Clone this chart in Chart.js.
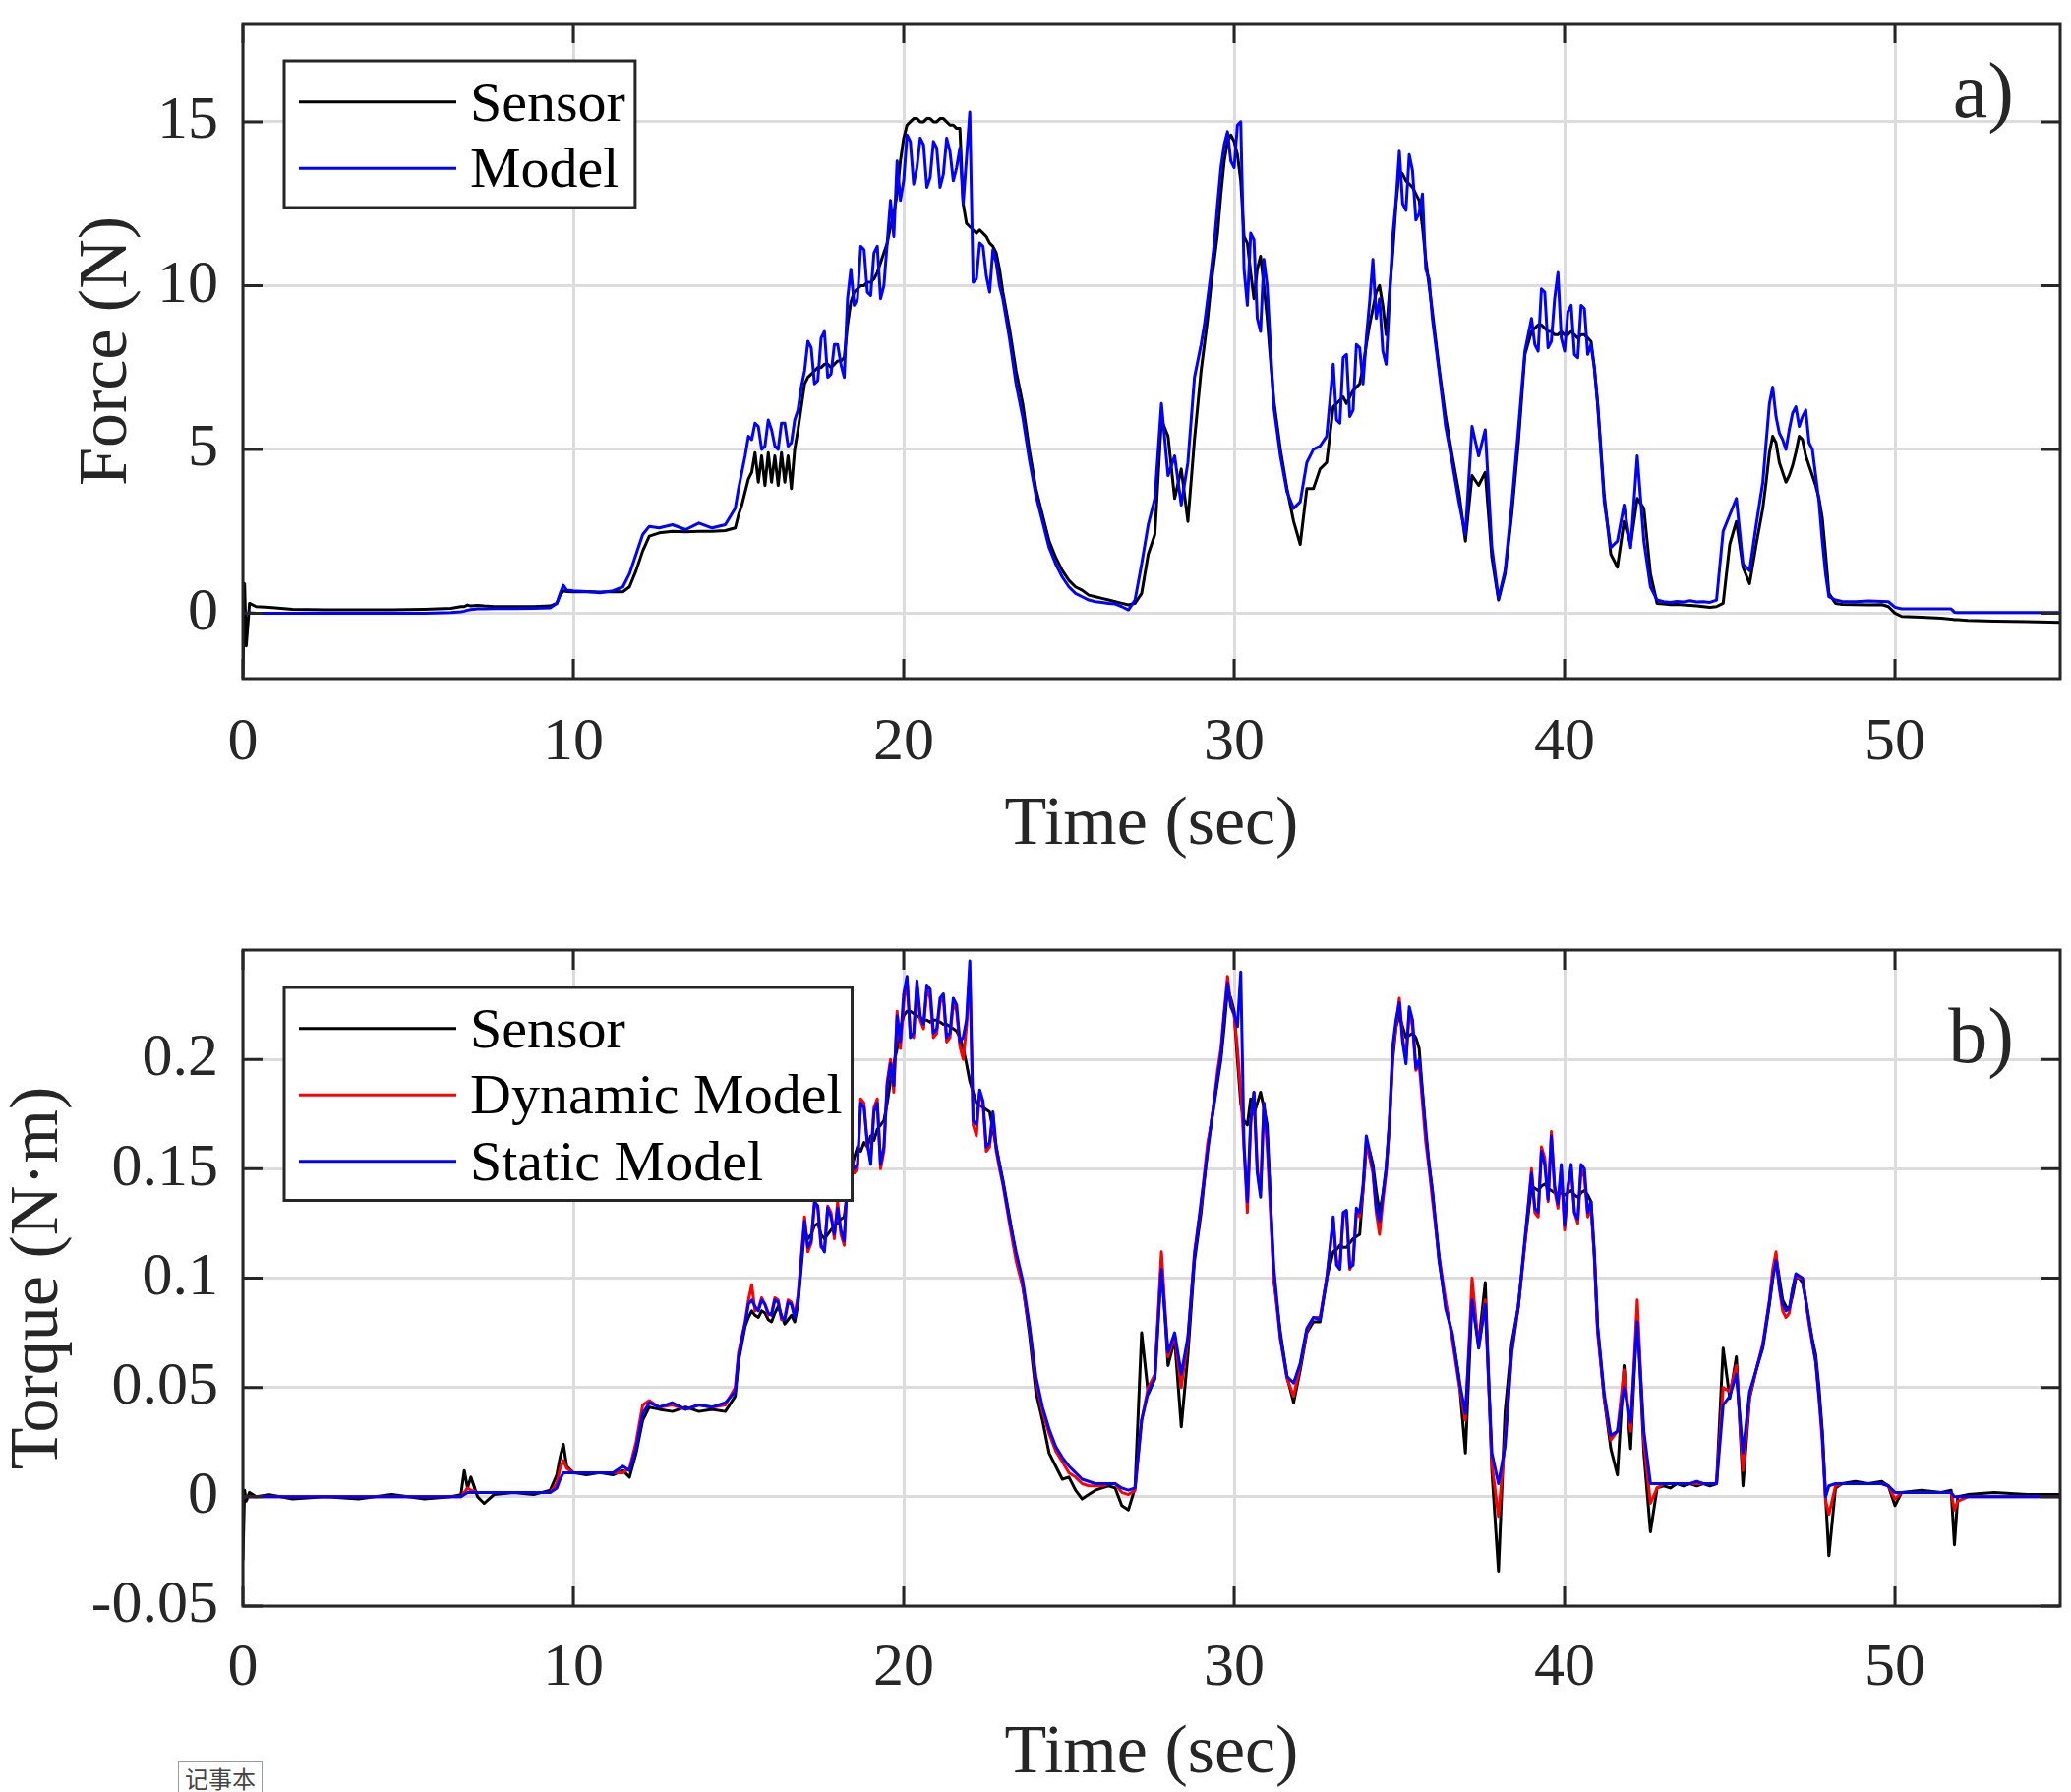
<!DOCTYPE html>
<html>
<head>
<meta charset="utf-8">
<script src="https://cdn.jsdelivr.net/npm/chart.js@4.4.0/dist/chart.umd.min.js"></script>
<style>
  body { margin: 0; background: #fff; }
  canvas { position: absolute; left: 0; }
  #force-chart { top: 0; }
  #torque-chart { top: 911px; }
  #note {
    position: absolute; left: 181px; top: 1790px; width: 84px; height: 34px;
    border: 1px solid #999; background: #fff; color: #444;
    font: 24px "Noto Sans CJK SC", sans-serif; line-height: 34px; text-align: center;
  }
</style>
</head>
<body>
<canvas id="force-chart" width="2106" height="911"></canvas>
<canvas id="torque-chart" width="2106" height="911"></canvas>
<div id="note">记事本</div>
<script>
// sample times (sec), shared by both panels
const time = [
  0, 0.05, 0.1, 0.2, 0.4, 0.8, 1.5, 2.5, 3.5, 4.5,
  5.5, 6.3, 6.6, 6.7, 6.8, 6.9, 7.1, 7.3, 7.6, 8.2,
  8.8, 9.3, 9.5, 9.6, 9.7, 9.8, 10, 10.4, 10.8, 11.2,
  11.5, 11.7, 11.9, 12.1, 12.3, 12.6, 13, 13.4, 13.8, 14.2,
  14.6, 14.9,
  15, 15.1, 15.2, 15.3, 15.4, 15.5, 15.6, 15.7, 15.8, 15.9,
  16, 16.1, 16.2, 16.3, 16.4, 16.5, 16.6, 16.7, 16.8, 16.9,
  17, 17.1, 17.2, 17.3, 17.4, 17.5, 17.6, 17.7, 17.8, 17.9,
  18, 18.1, 18.2, 18.3, 18.4, 18.5, 18.6, 18.7, 18.8, 18.9,
  19, 19.1, 19.2, 19.3, 19.4, 19.5, 19.6, 19.7, 19.8, 19.9,
  20, 20.1, 20.2, 20.3, 20.4, 20.5, 20.6, 20.7, 20.8, 20.9,
  21, 21.1, 21.2, 21.3, 21.4, 21.5, 21.6, 21.7, 21.8, 21.9,
  22, 22.1, 22.2, 22.3, 22.4, 22.5, 22.6, 22.7, 22.8, 22.9,
  23, 23.2, 23.4, 23.6, 23.8,
  24, 24.2, 24.4, 24.6, 24.8,
  25, 25.2, 25.4, 25.6, 25.8,
  26, 26.2, 26.4, 26.6, 26.8,
  27, 27.2, 27.4, 27.6, 27.8,
  28, 28.2, 28.4, 28.6, 28.8,
  29, 29.1, 29.2, 29.3, 29.4, 29.5, 29.6, 29.7, 29.8, 29.9,
  30, 30.1, 30.2, 30.3, 30.4, 30.5, 30.6, 30.7, 30.8, 30.9,
  31, 31.2, 31.4, 31.6, 31.8,
  32, 32.2, 32.4, 32.6, 32.8,
  33, 33.1, 33.2, 33.3, 33.4, 33.5, 33.6, 33.7, 33.8, 33.9,
  34, 34.1, 34.2, 34.3, 34.4, 34.5, 34.6, 34.7, 34.8, 34.9,
  35, 35.1, 35.2, 35.3, 35.4, 35.5, 35.6, 35.7, 35.8, 35.9,
  36, 36.2, 36.4, 36.6, 36.8,
  37, 37.2, 37.4, 37.6, 37.8,
  38, 38.2, 38.4, 38.6, 38.8,
  39, 39.1, 39.2, 39.3, 39.4, 39.5, 39.6, 39.7, 39.8, 39.9,
  40, 40.1, 40.2, 40.3, 40.4, 40.5, 40.6, 40.7, 40.8, 40.9,
  41, 41.2, 41.4, 41.6, 41.8,
  42, 42.2, 42.4, 42.6, 42.8,
  43, 43.2, 43.4, 43.6, 43.8,
  44, 44.2, 44.4, 44.6, 44.8,
  45, 45.2, 45.4, 45.6, 45.8,
  46, 46.1, 46.2, 46.3, 46.4, 46.5, 46.6, 46.7, 46.8, 46.9,
  47, 47.1, 47.2, 47.3, 47.4, 47.5, 47.6, 47.7, 47.8, 47.9,
  48, 48.2,
  48.4, 48.8, 49.2, 49.6, 49.8, 50, 50.2, 50.8, 51.4, 51.7,
  51.8, 51.9, 52.2, 53, 54, 55
];

// panel a) force (N)
const forceSensor = [
  -1.9, 0.9, -1.0, 0.3, 0.2, 0.18, 0.12, 0.1, 0.1, 0.1,
  0.12, 0.15, 0.2, 0.2, 0.25, 0.22, 0.24, 0.22, 0.2, 0.2,
  0.2, 0.22, 0.3, 0.55, 0.68, 0.66, 0.65, 0.66, 0.64, 0.66,
  0.65, 0.8, 1.3, 1.9, 2.35, 2.45, 2.5, 2.48, 2.5, 2.5,
  2.52, 2.6,
  3.0, 3.3, 3.7, 4.1, 4.3, 4.9, 4.0, 4.8, 3.9, 4.9,
  4.0, 4.8, 3.9, 4.9, 4.0, 4.8, 3.8, 5.0, 5.6, 6.3,
  7.0, 7.2, 7.3, 7.4, 7.5, 7.5, 7.6, 7.6, 7.5, 7.6,
  7.7, 7.7, 7.8, 8.8, 9.5, 9.8, 9.9, 10.0, 10.0, 10.1,
  10.1, 10.2, 10.4, 10.7, 11.0, 11.3, 11.8, 12.2, 12.8, 13.8,
  14.5, 14.9, 15.0, 15.1, 15.1, 15.0, 15.0, 15.1, 15.1, 15.0,
  15.0, 15.1, 15.1, 15.0, 14.9, 14.9, 14.8, 14.8, 12.5, 11.9,
  11.8, 11.7, 11.6, 11.7, 11.6, 11.5, 11.3, 11.2, 11.0, 10.5,
  9.8, 8.7, 7.4, 6.4, 5.0,
  3.8, 3.0, 2.2, 1.7, 1.3,
  1.0, 0.8, 0.7, 0.55, 0.5,
  0.45, 0.4, 0.35, 0.3, 0.25,
  0.3, 0.6, 1.8, 2.4, 5.9,
  5.4, 3.5, 4.4, 2.8, 5.3,
  7.4, 8.2, 9.0, 10.0, 10.8, 11.6, 12.8, 13.8, 14.4, 14.6,
  14.4, 14.0, 13.2, 11.5, 11.3, 10.4, 9.6, 10.5, 10.9, 10.0,
  9.0, 6.5, 5.0, 3.8, 2.8,
  2.1, 3.8, 3.8, 4.4, 4.6,
  6.3, 6.4, 6.5, 6.6, 6.4, 6.6, 6.8, 6.9, 7.0, 7.5,
  8.2, 8.8, 9.3, 9.8, 10.0, 9.4, 8.5, 9.8, 11.0, 12.5,
  13.5, 13.4, 13.2, 13.1, 13.0, 12.8, 12.6, 11.8, 10.8, 10.0,
  9.2, 7.5, 6.0, 4.8, 3.7,
  2.2, 4.2, 3.9, 4.3, 1.7,
  0.4, 1.2, 3.0, 5.2, 7.9,
  8.6, 8.7, 8.8, 8.8, 8.7, 8.6, 8.6, 8.5, 8.5, 8.6,
  8.5, 8.5, 8.6, 8.5, 8.4, 8.5, 8.5, 8.4, 8.3, 7.5,
  6.4, 3.6, 1.8, 1.4, 2.8,
  2.1, 3.5, 3.2, 1.2, 0.3,
  0.28, 0.26, 0.27, 0.25, 0.24,
  0.22, 0.2, 0.18, 0.2, 0.3,
  2.1, 2.8, 1.4, 0.9, 2.1,
  3.2, 4.0, 4.9, 5.4, 5.2, 4.6, 4.3, 4.0, 4.2, 4.5,
  4.9, 5.4, 5.3, 4.8, 4.5, 4.2, 3.9, 3.5, 2.9, 1.8,
  0.6, 0.3,
  0.27, 0.26, 0.25, 0.26, 0.2, 0.0, -0.1, -0.12, -0.15, -0.18,
  -0.2, -0.2, -0.22, -0.24, -0.26, -0.28
];
const forceModel = [
  0, 0.02, 0, 0.01, 0, 0, 0, 0, 0, 0,
  0, 0.02, 0.04, 0.06, 0.09, 0.11, 0.13, 0.13, 0.14, 0.14,
  0.15, 0.16, 0.3, 0.6, 0.85, 0.7, 0.68, 0.66, 0.62, 0.68,
  0.8, 1.2, 1.8, 2.4, 2.65, 2.6, 2.7, 2.55, 2.75, 2.6,
  2.7, 3.2,
  3.8, 4.3, 4.8, 5.4, 5.3, 5.8, 5.7, 5.0, 5.1, 5.9,
  5.6, 5.1, 5.0, 5.8, 5.8, 5.1, 5.2, 5.9, 6.2, 6.9,
  7.4, 8.3, 8.1, 7.0, 7.1, 8.4, 8.6, 7.2, 7.3, 8.2,
  8.2, 7.6, 7.2, 9.6, 10.5, 9.4, 9.6, 11.2, 11.1, 9.8,
  9.7, 11.0, 11.2, 9.6, 10.0, 11.3, 12.6, 11.5, 13.8, 12.6,
  13.2, 14.6, 14.4, 13.1, 13.6, 14.5, 14.3, 13.0, 13.3, 14.4,
  14.2, 13.0, 13.4, 14.5, 14.1, 13.2, 13.6, 14.2, 12.5, 13.9,
  15.3, 10.1, 10.2, 11.3, 11.2, 10.3, 9.8, 11.1, 10.7, 10.0,
  9.6, 8.4, 7.0, 6.0, 4.7,
  3.6, 2.8, 2.0, 1.5, 1.1,
  0.8, 0.6, 0.5, 0.4, 0.35,
  0.33, 0.3, 0.28, 0.2, 0.1,
  0.4, 1.5, 2.7, 3.5, 6.4,
  4.2, 4.8, 3.3, 4.6, 7.2,
  8.2, 8.8, 9.6, 10.4, 11.3, 12.5, 13.6, 14.3, 14.7, 13.8,
  13.6, 14.9, 15.0, 10.5, 9.4, 11.6, 11.4, 9.0, 8.6, 10.8,
  10.0, 6.3, 4.8, 3.7, 3.2,
  3.4, 4.6, 5.0, 5.1, 5.4,
  7.6, 5.9, 5.8, 7.8, 7.9, 6.0, 6.2, 8.2, 8.1, 7.0,
  8.4, 9.5, 10.8, 9.0, 9.6, 8.0, 7.6, 9.5, 11.5, 12.6,
  14.1, 12.5, 12.3, 14.0, 13.5, 12.0, 12.2, 12.8, 10.5, 10.2,
  9.0, 7.4, 5.7, 4.6, 3.4,
  2.4, 5.7, 4.8, 5.6, 2.0,
  0.45, 1.3, 3.3, 5.6, 8.0,
  9.0, 8.2, 8.0, 9.9, 9.8, 8.1, 8.3, 9.6, 10.4, 8.4,
  8.0, 9.2, 9.4, 7.9, 7.8, 9.4, 9.3, 7.9, 8.2, 7.5,
  6.4, 3.4, 2.0, 2.2, 3.3,
  2.0, 4.8, 2.2, 0.8, 0.4,
  0.35, 0.33, 0.36, 0.34, 0.38,
  0.34, 0.35, 0.33, 0.4, 2.5,
  3.0, 3.5, 1.5, 1.3, 2.7,
  4.0, 5.2, 6.4, 6.9, 6.0, 5.5, 5.3, 5.0, 5.6, 6.1,
  6.3, 5.7, 6.0, 6.2, 5.2, 5.0, 4.2, 3.4, 2.2, 1.2,
  0.5, 0.4,
  0.36, 0.35, 0.37, 0.36, 0.35, 0.18, 0.13, 0.13, 0.13, 0.13,
  0.03, 0.02, 0.02, 0.02, 0.02, 0.02
];

// panel b) torque (N·m)
const torqueSensor = [
  -0.029, 0.003, -0.002, 0.002, 0, 0.001, -0.001, 0, -0.001, 0.001,
  -0.001, 0, 0.001, 0.012, 0.004, 0.009, 0, -0.003, 0.001, 0.002,
  0.001, 0.003, 0.01, 0.018, 0.024, 0.014, 0.011, 0.01, 0.011, 0.01,
  0.012, 0.009, 0.02, 0.035, 0.041, 0.04, 0.039, 0.041, 0.039, 0.04,
  0.039, 0.046,
  0.062, 0.07, 0.078, 0.082, 0.085, 0.083, 0.082, 0.085, 0.084, 0.081,
  0.08, 0.084, 0.087, 0.083, 0.079, 0.081, 0.083, 0.08, 0.088, 0.105,
  0.122, 0.118, 0.12, 0.124, 0.125, 0.12, 0.118, 0.12, 0.122, 0.124,
  0.125, 0.127, 0.128, 0.14, 0.148, 0.155, 0.16, 0.158, 0.162, 0.16,
  0.165, 0.163, 0.168, 0.17, 0.172, 0.18, 0.19, 0.198, 0.205, 0.214,
  0.22, 0.222, 0.222, 0.221, 0.22, 0.219, 0.218, 0.218, 0.217, 0.218,
  0.218, 0.217, 0.216, 0.216, 0.215, 0.214, 0.213, 0.21, 0.205, 0.198,
  0.19, 0.185, 0.18, 0.179, 0.178, 0.177, 0.176, 0.168, 0.16, 0.152,
  0.145, 0.128, 0.11, 0.097, 0.075,
  0.048, 0.035, 0.02, 0.014, 0.008,
  0.009, 0.003, -0.001, 0.001, 0.003,
  0.004, 0.005, 0.004, -0.004, -0.006,
  0.004, 0.075, 0.047, 0.054, 0.108,
  0.06, 0.072, 0.032, 0.065, 0.108,
  0.13, 0.145, 0.16, 0.17, 0.18, 0.19, 0.2, 0.215, 0.232, 0.228,
  0.222, 0.2, 0.18, 0.172, 0.17, 0.182, 0.175, 0.18, 0.185, 0.178,
  0.17, 0.1, 0.075, 0.055, 0.043,
  0.058, 0.075, 0.08, 0.08, 0.1,
  0.112, 0.113, 0.115, 0.114, 0.114, 0.116, 0.118, 0.119, 0.12, 0.14,
  0.16, 0.158, 0.152, 0.14, 0.13, 0.138, 0.15, 0.17, 0.2, 0.215,
  0.22, 0.215, 0.21, 0.211, 0.212, 0.21, 0.205, 0.185, 0.165, 0.152,
  0.14, 0.108, 0.088, 0.074, 0.055,
  0.02, 0.09, 0.07, 0.098, 0.012,
  -0.034, 0.039, 0.07, 0.087, 0.116,
  0.142, 0.141, 0.14, 0.142, 0.143, 0.141, 0.14, 0.139, 0.138, 0.139,
  0.138, 0.139, 0.14, 0.138, 0.137, 0.139, 0.14, 0.138, 0.135, 0.11,
  0.077, 0.045, 0.022, 0.01, 0.06,
  0.022, 0.085, 0.02, -0.016, 0.004,
  0.005, 0.004, 0.006, 0.005, 0.006,
  0.005, 0.006, 0.005, 0.006, 0.068,
  0.045, 0.064, 0.005, 0.045, 0.058,
  0.068, 0.078, 0.088, 0.1, 0.11, 0.1, 0.09, 0.087, 0.086, 0.092,
  0.1, 0.1, 0.098, 0.09, 0.08, 0.072, 0.065, 0.05, 0.03, 0.0,
  -0.027, 0.004,
  0.006, 0.007, 0.006, 0.007, 0.005, -0.004, 0.002, 0.003, 0.002, 0.003,
  -0.022, 0, 0.001, 0.002, 0.001, 0.001
];
const torqueDynamic = [
  0, 0, 0, 0, 0, 0, 0, 0, 0, 0,
  0, 0, 0, 0.002, 0.004, 0.003, 0.002, 0.002, 0.002, 0.002,
  0.002, 0.002, 0.006, 0.013, 0.0165, 0.013, 0.011, 0.011, 0.011, 0.011,
  0.011, 0.013, 0.025, 0.042, 0.044, 0.041, 0.042, 0.04, 0.042, 0.041,
  0.042, 0.05,
  0.066, 0.073, 0.08, 0.09, 0.097, 0.085, 0.086, 0.091, 0.088, 0.083,
  0.084, 0.091, 0.09, 0.081, 0.082, 0.09, 0.089, 0.083, 0.092, 0.11,
  0.128, 0.112, 0.116, 0.134, 0.132, 0.114, 0.113, 0.133, 0.13, 0.118,
  0.135, 0.12, 0.115, 0.15, 0.16, 0.148, 0.15, 0.182, 0.18, 0.16,
  0.155, 0.178, 0.182, 0.15, 0.158, 0.19, 0.2, 0.185, 0.222, 0.205,
  0.226, 0.236, 0.212, 0.21, 0.234, 0.218, 0.214, 0.232, 0.228, 0.21,
  0.212, 0.226, 0.228, 0.208, 0.21, 0.226, 0.222, 0.206, 0.2, 0.215,
  0.24, 0.17, 0.165, 0.185, 0.18, 0.158, 0.16, 0.175, 0.158, 0.15,
  0.143, 0.125, 0.108, 0.096, 0.078,
  0.053, 0.039, 0.029, 0.021, 0.016,
  0.011, 0.009, 0.006, 0.005, 0.005,
  0.005, 0.006, 0.006, 0.002, 0.001,
  0.003, 0.035, 0.05, 0.056, 0.112,
  0.064, 0.074, 0.05, 0.072, 0.112,
  0.133, 0.148, 0.162, 0.17, 0.182, 0.195, 0.205, 0.222, 0.238, 0.225,
  0.22, 0.205, 0.185, 0.16, 0.13, 0.17, 0.185, 0.15, 0.14, 0.18,
  0.16, 0.1, 0.072, 0.054, 0.046,
  0.06, 0.076, 0.082, 0.082, 0.1,
  0.126, 0.108, 0.106, 0.128, 0.13, 0.104, 0.108, 0.13, 0.128, 0.14,
  0.162, 0.155, 0.148, 0.13, 0.12, 0.135, 0.148, 0.17, 0.204, 0.215,
  0.228, 0.21, 0.2, 0.222, 0.215, 0.195, 0.198, 0.18, 0.162, 0.15,
  0.136, 0.11, 0.09, 0.072, 0.052,
  0.035, 0.1, 0.068, 0.09, 0.015,
  -0.009, 0.026, 0.066, 0.087, 0.116,
  0.15, 0.13, 0.128, 0.16, 0.155, 0.135, 0.167, 0.14, 0.132, 0.15,
  0.122, 0.14, 0.15, 0.13, 0.125, 0.15, 0.146, 0.128, 0.132, 0.11,
  0.075, 0.045, 0.026, 0.03, 0.058,
  0.03, 0.09, 0.025, -0.003, 0.004,
  0.006, 0.006, 0.006, 0.006, 0.006,
  0.006, 0.006, 0.006, 0.006, 0.05,
  0.048, 0.06, 0.012, 0.046, 0.058,
  0.07, 0.08, 0.09, 0.104, 0.112, 0.095, 0.085, 0.082, 0.084, 0.095,
  0.101, 0.1, 0.1, 0.09, 0.079, 0.07, 0.062, 0.045, 0.025, -0.002,
  -0.008, 0.005,
  0.006, 0.006, 0.006, 0.006, 0.005, -0.001, 0.002, 0.002, 0.002, 0.002,
  -0.006, -0.002, 0, 0, 0, 0
];
const torqueStatic = [
  0, 0, 0, 0, 0, 0, 0, 0, 0, 0,
  0, 0, 0, 0.001, 0.002, 0.002, 0.002, 0.002, 0.002, 0.002,
  0.002, 0.002, 0.004, 0.008, 0.011, 0.011, 0.011, 0.011, 0.011, 0.011,
  0.014, 0.012, 0.022, 0.038, 0.043, 0.041, 0.043, 0.04, 0.042, 0.041,
  0.043, 0.048,
  0.064, 0.072, 0.079, 0.088, 0.09, 0.087, 0.085, 0.09, 0.088, 0.084,
  0.083, 0.09, 0.089, 0.082, 0.081, 0.089, 0.088, 0.082, 0.09, 0.108,
  0.126, 0.114, 0.117, 0.135, 0.133, 0.115, 0.112, 0.132, 0.128, 0.12,
  0.132, 0.122, 0.117, 0.148, 0.155, 0.15, 0.152, 0.18, 0.178, 0.162,
  0.152, 0.176, 0.18, 0.152, 0.16, 0.188, 0.198, 0.188, 0.22, 0.208,
  0.23, 0.238, 0.21, 0.212, 0.236, 0.22, 0.216, 0.234, 0.232, 0.212,
  0.214, 0.228, 0.23, 0.21, 0.212, 0.228, 0.225, 0.208, 0.21, 0.218,
  0.245, 0.172, 0.17, 0.186, 0.181, 0.16, 0.162, 0.176, 0.16, 0.152,
  0.144, 0.127, 0.112, 0.099, 0.079,
  0.055, 0.041, 0.031, 0.023, 0.018,
  0.014, 0.011, 0.008, 0.007, 0.006,
  0.006, 0.006, 0.006, 0.004, 0.003,
  0.004, 0.035, 0.048, 0.054, 0.104,
  0.066, 0.075, 0.056, 0.073, 0.11,
  0.135, 0.146, 0.158, 0.17, 0.181, 0.192, 0.202, 0.22, 0.235, 0.224,
  0.221, 0.215, 0.24, 0.16, 0.135, 0.172, 0.185, 0.148, 0.137, 0.18,
  0.165, 0.105, 0.073, 0.055, 0.052,
  0.061, 0.077, 0.082, 0.081, 0.099,
  0.128, 0.106, 0.104, 0.13, 0.131, 0.105, 0.106, 0.132, 0.13, 0.142,
  0.165, 0.158, 0.15, 0.132, 0.126, 0.138, 0.15, 0.172, 0.206, 0.218,
  0.226, 0.208, 0.198, 0.224, 0.218, 0.196, 0.2, 0.185, 0.168, 0.152,
  0.14, 0.11, 0.086, 0.075, 0.054,
  0.038, 0.09, 0.068, 0.088, 0.02,
  0.006, 0.023, 0.066, 0.087, 0.118,
  0.148, 0.132, 0.13, 0.158, 0.152, 0.136, 0.165, 0.142, 0.134, 0.152,
  0.124, 0.142, 0.152, 0.13, 0.127, 0.152, 0.15, 0.13, 0.135, 0.112,
  0.078, 0.047, 0.028, 0.03, 0.05,
  0.034, 0.08, 0.03, 0.006, 0.006,
  0.006, 0.006, 0.006, 0.006, 0.006,
  0.007, 0.006, 0.006, 0.006, 0.042,
  0.046, 0.056, 0.02, 0.048, 0.058,
  0.069, 0.079, 0.089, 0.1, 0.108, 0.096, 0.088, 0.085, 0.086, 0.095,
  0.102, 0.101, 0.1, 0.09, 0.081, 0.071, 0.062, 0.046, 0.029, 0.0,
  0.005, 0.006,
  0.006, 0.006, 0.006, 0.006, 0.005, 0.002, 0.002, 0.002, 0.002, 0.002,
  0, 0, 0, 0, 0, 0
];

const xTicks = [0, 10, 20, 30, 40, 50];
const forceTicks = [0, 5, 10, 15];
const torqueTicks = [-0.05, 0, 0.05, 0.1, 0.15, 0.2];

const serif = '"Liberation Serif", "Times New Roman", serif';
const ink = "#262626";

for (const arr of [forceSensor, forceModel, torqueSensor, torqueDynamic, torqueStatic]) {
  if (arr.length !== time.length) console.error("length mismatch", arr.length, time.length);
}

function points(values) {
  return time.map((t, i) => ({ x: t, y: values[i] }));
}

function line(label, values, color, order) {
  return {
    label: label,
    data: points(values),
    borderColor: color,
    borderWidth: 3,
    borderJoinStyle: "round",
    pointRadius: 0,
    tension: 0,
    order: order,
  };
}

// box, inward ticks, legend and panel tag, MATLAB style
const matlabFrame = {
  id: "matlabFrame",
  afterDraw(chart, args, opts) {
    const { ctx, chartArea: a, scales } = chart;
    ctx.save();
    ctx.strokeStyle = ink;
    ctx.lineWidth = 3;
    ctx.beginPath();
    for (const t of scales.x.ticks) {
      const px = scales.x.getPixelForValue(t.value);
      ctx.moveTo(px, a.bottom);
      ctx.lineTo(px, a.bottom - 20);
      ctx.moveTo(px, a.top);
      ctx.lineTo(px, a.top + 20);
    }
    for (const t of scales.y.ticks) {
      const py = scales.y.getPixelForValue(t.value);
      ctx.moveTo(a.left, py);
      ctx.lineTo(a.left + 20, py);
      ctx.moveTo(a.right, py);
      ctx.lineTo(a.right - 20, py);
    }
    ctx.stroke();
    ctx.strokeRect(a.left, a.top, a.right - a.left, a.bottom - a.top);

    // legend
    const sets = chart.data.datasets;
    ctx.font = "58px " + serif;
    let textW = 0;
    for (const d of sets) textW = Math.max(textW, ctx.measureText(d.label).width);
    const bx = a.left + 42;
    const by = a.top + 38;
    const bw = 189 + textW + 10;
    const bh = sets.length * 67.5 + 14;
    ctx.fillStyle = "#fff";
    ctx.fillRect(bx, by, bw, bh);
    ctx.strokeRect(bx, by, bw, bh);
    ctx.textBaseline = "middle";
    ctx.textAlign = "left";
    sets.forEach((d, i) => {
      const ry = by + 7 + 67.5 * (i + 0.5);
      ctx.strokeStyle = d.borderColor;
      ctx.beginPath();
      ctx.moveTo(bx + 15, ry + 1);
      ctx.lineTo(bx + 175, ry + 1);
      ctx.stroke();
      ctx.fillStyle = "#000";
      ctx.fillText(d.label, bx + 189, ry + 5);
    });

    // panel tag
    ctx.font = "80px " + serif;
    ctx.fillStyle = ink;
    ctx.textAlign = "right";
    ctx.textBaseline = "alphabetic";
    ctx.fillText(opts.tag, a.right - 47, a.top + opts.tagDrop);
    ctx.restore();
  },
};

function makeChart(id, datasets, cfg) {
  return new Chart(document.getElementById(id).getContext("2d"), {
    type: "line",
    data: { datasets: datasets },
    options: {
      animation: false,
      responsive: false,
      events: [],
      layout: { padding: { top: cfg.top, right: 11, left: 0, bottom: 0 } },
      plugins: {
        legend: { display: false },
        tooltip: { enabled: false },
        matlabFrame: { tag: cfg.tag, tagDrop: cfg.tagDrop },
      },
      scales: {
        x: {
          type: "linear",
          min: 0,
          max: 55,
          afterBuildTicks: (s) => { s.ticks = xTicks.map((v) => ({ value: v })); },
          afterFit: (s) => { s.height = cfg.xHeight; s.paddingLeft = 0; s.paddingRight = 0; },
          ticks: {
            callback: (v) => String(v),
            font: { family: serif, size: 62, lineHeight: 1 },
            color: ink,
            padding: cfg.xTickPad,
            maxRotation: 0,
            autoSkip: false,
          },
          grid: { color: "#dcdcdc", lineWidth: 3, drawTicks: false },
          border: { display: false },
          title: {
            display: true,
            text: "Time (sec)",
            font: { family: serif, size: 70, lineHeight: 1 },
            color: ink,
            padding: { top: 0, bottom: cfg.xTitlePad },
          },
        },
        y: {
          type: "linear",
          min: cfg.yMin,
          max: cfg.yMax,
          afterBuildTicks: (s) => { s.ticks = cfg.yTicks.map((v) => ({ value: v })); },
          afterFit: (s) => { s.width = 247; s.paddingTop = 0; s.paddingBottom = 0; },
          ticks: {
            callback: (v) => String(v),
            font: { family: serif, size: 62, lineHeight: 1 },
            color: ink,
            padding: 25,
            autoSkip: false,
          },
          grid: { color: "#dcdcdc", lineWidth: 3, drawTicks: false },
          border: { display: false },
          title: {
            display: true,
            text: cfg.yTitle,
            font: { family: serif, size: 70, lineHeight: 1 },
            color: ink,
            padding: { top: cfg.yTitlePad, bottom: 0 },
          },
        },
      },
    },
    plugins: [matlabFrame],
  });
}

makeChart(
  "force-chart",
  [
    line("Sensor", forceSensor, "#000000", 2),
    line("Model", forceModel, "#0000ff", 1),
  ],
  {
    top: 24, xHeight: 221, xTickPad: 35, xTitlePad: 36,
    yMin: -2, yMax: 18, yTicks: forceTicks, yTitle: "Force (N)", yTitlePad: 75,
    tag: "a)", tagDrop: 95,
  }
);

makeChart(
  "torque-chart",
  [
    line("Sensor", torqueSensor, "#000000", 3),
    line("Dynamic Model", torqueDynamic, "#ff0000", 2),
    line("Static Model", torqueStatic, "#0000ff", 1),
  ],
  {
    top: 55, xHeight: 189, xTickPad: 33, xTitlePad: 3,
    yMin: -0.05, yMax: 0.25, yTicks: torqueTicks, yTitle: "Torque (N\u00b7m)", yTitlePad: 5,
    tag: "b)", tagDrop: 114,
  }
);
</script>
</body>
</html>
